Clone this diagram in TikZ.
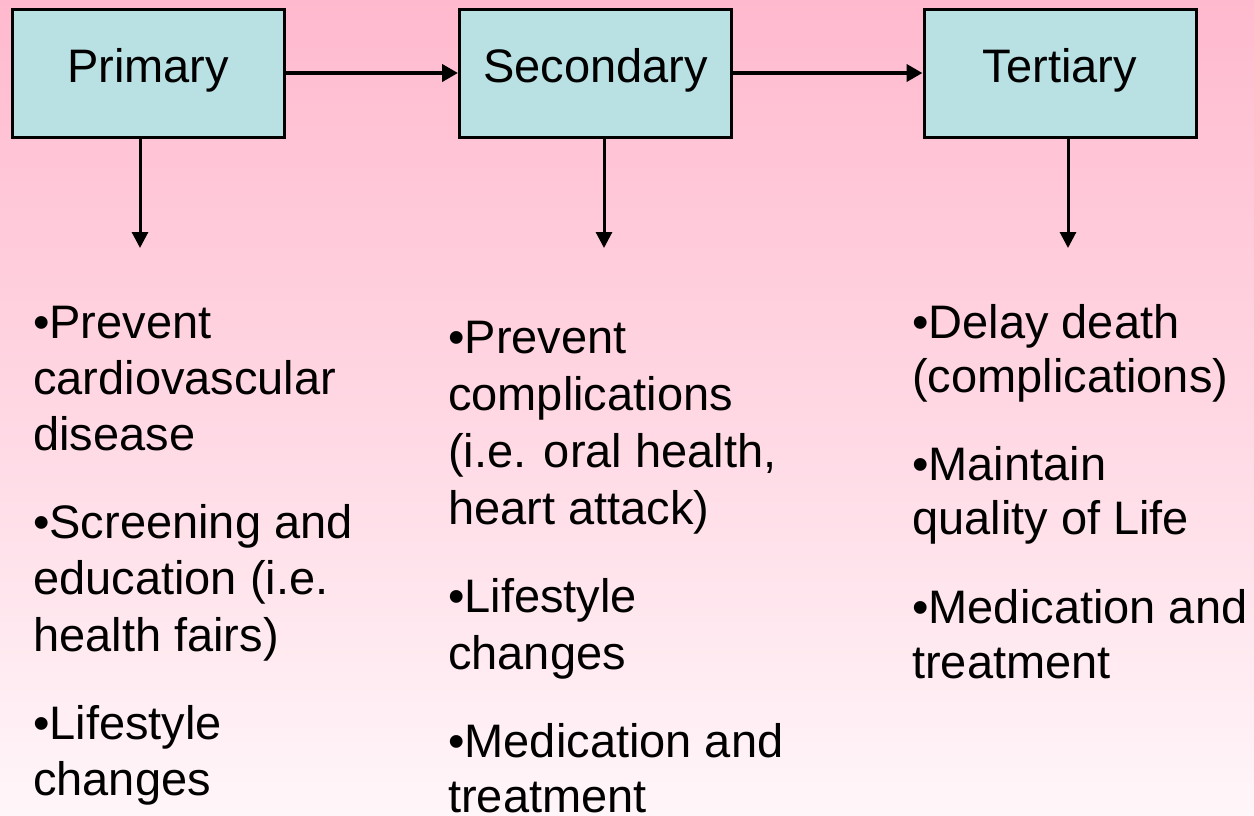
\documentclass[tikz,border=0pt]{standalone}
\usepackage{fontspec}
\setmainfont{Liberation Sans}
\usetikzlibrary{arrows.meta}
\definecolor{bgtop}{RGB}{255,185,206}
\definecolor{bgbot}{RGB}{255,246,249}
\definecolor{boxfill}{RGB}{185,224,227}
\begin{document}
\begin{tikzpicture}[x=1pt,y=-1pt,
  stage/.style={draw=black, line width=3pt, fill=boxfill, inner sep=0pt,
    minimum width=272pt, text height=73pt, text depth=55pt,
    font=\fontsize{47}{56}\selectfont, anchor=base},
  harrow/.style={line width=4.5pt, -{Triangle[length=16pt,width=17pt]}},
  varrow/.style={line width=3pt, -{Triangle[length=16pt,width=16pt]}},
  txt/.style={anchor=base west, inner sep=0pt, font=\fontsize{47}{56}\selectfont}]
\fill[top color=bgtop, bottom color=bgbot] (0,0) rectangle (1254,815);
\useasboundingbox (0,0) rectangle (1254,815);

\node[stage] (p) at (148,82) {Primary};
\node[stage] (s) at (595.5,82) {Secondary};
\node[stage] (t) at (1060,82) {Tertiary};

\draw[harrow] (p.east) -- (s.west);
\draw[harrow] (s.east) -- (t.west);

\coordinate (pd) at (140,248);
\coordinate (sd) at (604,248);
\coordinate (td) at (1068,248);
\draw[varrow] (p.south -| pd) -- (pd);
\draw[varrow] (s.south -| sd) -- (sd);
\draw[varrow] (t.south -| td) -- (td);

% column 1
\node[txt] (a1) at (33,338) {•Prevent};
\node[txt] (a2) at (33,394) {cardiovascular};
\node[txt] (a3) at (33,450) {disease};
\node[txt] (a4) at (33,538) {•Screening and};
\node[txt] (a5) at (33,594) {education (i.e.};
\node[txt] (a6) at (33,651) {health fairs)};
\node[txt] (a7) at (33,739) {•Lifestyle};
\node[txt] (a8) at (33,795) {changes};

% column 2
\node[txt] (b1) at (448,353) {•Prevent};
\node[txt] (b2) at (448,410) {complications};
\node[txt] (b3) at (448,467) {(i.e. oral health,};
\node[txt] (b4) at (448,524) {heart attack)};
\node[txt] (b5) at (448,612) {•Lifestyle};
\node[txt] (b6) at (448,669) {changes};
\node[txt] (b7) at (448,757) {•Medication and};
\node[txt] (b8) at (448,812) {treatment};

% column 3
\node[txt] (c1) at (912,338) {•Delay death};
\node[txt] (c2) at (912,392) {(complications)};
\node[txt] (c3) at (912,480) {•Maintain};
\node[txt] (c4) at (912,534) {quality of Life};
\node[txt] (c5) at (912,623) {•Medication and};
\node[txt] (c6) at (912,678) {treatment};
\end{tikzpicture}
\end{document}
